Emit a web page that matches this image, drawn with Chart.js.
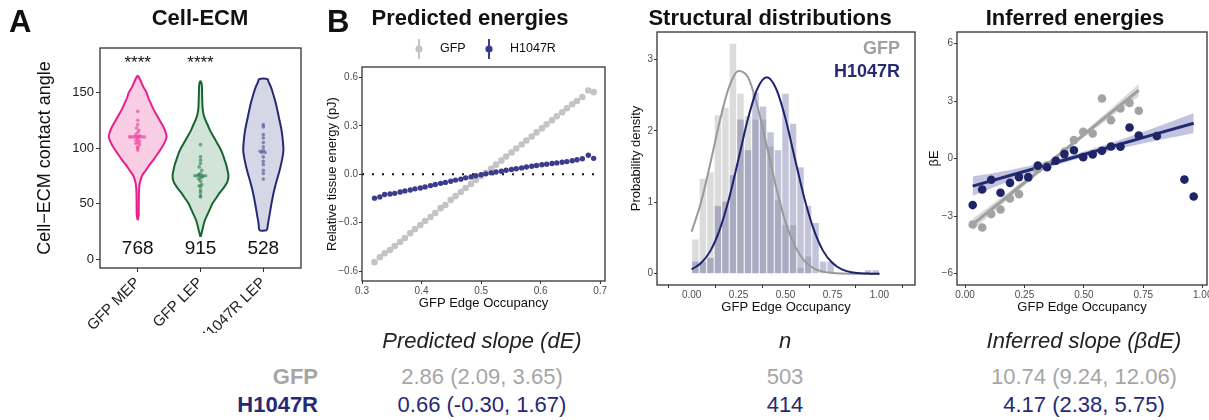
<!DOCTYPE html>
<html>
<head>
<meta charset="utf-8">
<script src="https://cdn.jsdelivr.net/npm/chart.js@4.4.1/dist/chart.umd.min.js"></script>
<style>
  html, body { margin: 0; padding: 0; background: #fff; }
  body { position: relative; width: 1209px; height: 420px; overflow: hidden;
         font-family: 'Liberation Sans', Arial, Helvetica, sans-serif; }
  canvas { position: absolute; }
  .txt { position: absolute; white-space: nowrap; line-height: 1; }
</style>
</head>
<body>
<canvas id="chartViolin" width="285" height="303" style="left:30px;top:30px"></canvas>
<canvas id="chartPredicted" width="295" height="285" style="left:322px;top:30px"></canvas>
<canvas id="chartStructure" width="305" height="305" style="left:620px;top:12px"></canvas>
<canvas id="chartInferred" width="300" height="305" style="left:925px;top:12px"></canvas>
<script>
// ---- panel A: contact angles ----
var groupsA = ['GFP MEP', 'GFP LEP', 'H1047R LEP'];
var countsA = ['768', '915', '528'];
var signifA = ['****', '****', ''];

var mepLevels = [35, 40, 50, 60, 65, 70, 75, 80, 85, 90, 95, 100, 105, 110, 115, 120, 125, 130, 135, 140, 145, 150, 155, 160, 163, 165];
var mepWidths = [0, .015, .017, .02, .025, .04, .07, .13, .19, .26, .32, .38, .43, .46, .44, .40, .35, .30, .25, .21, .17, .14, .09, .05, .025, 0];
var lepLevels = [20, 25, 30, 35, 40, 45, 50, 55, 60, 65, 70, 75, 80, 85, 90, 95, 100, 105, 110, 115, 120, 125, 130, 135, 140, 150, 157, 160];
var lepWidths = [0, .025, .045, .07, .11, .15, .19, .25, .31, .38, .43, .445, .43, .41, .38, .35, .31, .26, .21, .16, .12, .08, .05, .035, .03, .025, .02, 0];
var h1047Levels = [26, 32, 40, 50, 60, 70, 80, 90, 98, 107, 116, 127, 140, 150, 155, 160, 162];
var h1047Widths = [.06, .075, .1, .13, .165, .21, .26, .30, .32, .31, .29, .25, .20, .15, .12, .08, .07];

var mepDots = [133, 125, 121, 118, 116, 114, 112, 111, 110, 110, 110, 110, 110, 110, 110, 110, 108, 107, 106, 105, 104, 103, 101, 100, 98];
var mepJitter = [0, 0, 0, -.02, .02, 0, -.03, .03, -.13, -.1, -.06, -.03, 0, .03, .07, .11, 0, -.03, .03, 0, -.03, .03, 0, 0, 0];
var lepDots = [103, 92, 89, 86, 83, 80, 77, 76, 75, 75, 75, 75, 75, 74, 73, 72, 70, 67, 66, 65, 62, 60, 57, 56];
var lepJitter = [0, 0, 0, 0, -.02, .02, 0, -.03, -.09, -.05, 0, .04, .08, .03, 0, -.03, 0, .02, -.02, 0, 0, 0, 0, 0];
var h1047Dots = [121, 119, 112, 109, 105, 101, 98, 97, 96, 96, 92, 88, 85, 80, 77, 72];
var h1047Jitter = [0, 0, 0, 0, 0, 0, 0, -.05, .03, -.02, 0, 0, 0, 0, 0, 0];

// ---- panel B: predicted energies ----
var occupancy = [0.321, 0.330, 0.338, 0.347, 0.355, 0.364, 0.372, 0.381, 0.389, 0.398, 0.406, 0.415, 0.423, 0.432, 0.440,
  0.449, 0.457, 0.466, 0.474, 0.483, 0.491, 0.500, 0.508, 0.517, 0.525, 0.534, 0.542, 0.551, 0.559, 0.568,
  0.576, 0.585, 0.593, 0.602, 0.610, 0.619, 0.627, 0.636, 0.644, 0.653, 0.661, 0.670, 0.680, 0.689];
var gfpEnergy = [-0.545, -0.515, -0.49, -0.47, -0.445, -0.42, -0.395, -0.365, -0.34, -0.315, -0.29, -0.265, -0.24, -0.21, -0.19,
  -0.16, -0.135, -0.11, -0.085, -0.06, -0.035, -0.01, 0.01, 0.035, 0.06, 0.085, 0.11, 0.135, 0.16, 0.185,
  0.21, 0.235, 0.26, 0.285, 0.31, 0.335, 0.36, 0.385, 0.41, 0.435, 0.455, 0.48, 0.52, 0.51];
var h1047Energy = [-0.148, -0.14, -0.125, -0.122, -0.118, -0.11, -0.103, -0.097, -0.09, -0.085, -0.078, -0.07, -0.063, -0.056, -0.05,
  -0.043, -0.036, -0.03, -0.022, -0.016, -0.009, -0.003, 0.003, 0.009, 0.014, 0.019, 0.025, 0.03, 0.035, 0.04,
  0.045, 0.05, 0.055, 0.059, 0.063, 0.067, 0.071, 0.075, 0.079, 0.084, 0.09, 0.097, 0.118, 0.099];
var zeroLine = [0.3, 0.7];

// ---- panel C: occupancy histograms ----
var binCenters = [0.02, 0.06, 0.10, 0.14, 0.18, 0.22, 0.26, 0.30, 0.34, 0.38, 0.42, 0.46, 0.50, 0.54, 0.58, 0.62, 0.66,
  0.70, 0.74, 0.78, 0.82, 0.86, 0.90, 0.94, 0.98];
var gfpDensity = [0.48, 1.33, 1.42, 2.22, 2.32, 3.22, 2.52, 2.21, 2.16, 2.16, 1.78, 1.03, 0.68, 0.68, 0.08, 0.24, 0, 0, 0, 0, 0, 0, 0, 0, 0];
var h1047Density = [0.17, 0.17, 0.22, 0.95, 1.01, 1.38, 2.16, 1.73, 2.53, 2.34, 1.98, 1.73, 2.52, 2.10, 1.49, 0.95, 0.71, 0.17, 0.17, 0, 0, 0, 0, 0.05, 0.05];
var fitX = [0, 0.05, 0.10, 0.15, 0.20, 0.25, 0.30, 0.35, 0.40, 0.45, 0.50, 0.55, 0.60, 0.65, 0.70, 0.75, 0.80, 0.85, 0.90, 0.95, 1.00];
var gfpFit = [0.59, 1.00, 1.55, 2.14, 2.62, 2.84, 2.75, 2.35, 1.79, 1.21, 0.72, 0.39, 0.18, 0.076, 0.029, 0.009, 0.002, 0, 0, 0, 0];
var h1047Fit = [0.06, 0.15, 0.32, 0.62, 1.06, 1.61, 2.17, 2.59, 2.75, 2.59, 2.17, 1.61, 1.06, 0.62, 0.32, 0.15, 0.06, 0.02, 0.005, 0.001, 0];

// ---- panel D: inferred energies ----
var gfpInfX = [0.032, 0.072, 0.110, 0.149, 0.189, 0.227, 0.266, 0.306, 0.345, 0.382, 0.418, 0.458, 0.497, 0.537, 0.576, 0.614, 0.654, 0.692, 0.731];
var gfpInfE = [-3.44, -3.6, -2.9, -2.66, -2.09, -1.86, -1.0, -0.55, -0.35, -0.1, 0.35, 0.96, 1.39, 1.30, 3.13, 2.0, 2.61, 2.9, 2.49];
var h1047InfX = [0.032, 0.072, 0.110, 0.149, 0.189, 0.227, 0.266, 0.306, 0.345, 0.382, 0.418, 0.458, 0.497, 0.537, 0.576, 0.614, 0.654, 0.692, 0.731, 0.807, 0.923, 0.962];
var h1047InfE = [-2.43, -1.62, -1.11, -1.79, -1.27, -0.97, -0.97, -0.37, -0.45, -0.12, 0.23, 0.43, 0.07, 0.21, 0.40, 0.63, 0.61, 1.62, 1.20, 1.17, -1.10, -1.98];
var gfpTrendX = [0.032, 0.2, 0.4, 0.6, 0.731];
var gfpTrend = [-3.44, -1.76, 0.24, 2.25, 3.56];
var gfpLow = [-3.74, -1.93, 0.12, 2.05, 3.23];
var gfpHigh = [-3.14, -1.59, 0.36, 2.45, 3.89];
var h1047TrendX = [0.032, 0.2, 0.4, 0.6, 0.8, 0.962];
var h1047Trend = [-1.44, -0.85, -0.14, 0.56, 1.27, 1.84];
var h1047Low = [-1.94, -1.13, -0.29, 0.36, 0.92, 1.32];
var h1047High = [-0.94, -0.57, 0.01, 0.76, 1.62, 2.36];

// ---- summary table ----
var tableCols = ['Predicted slope (dE)', 'n', 'Inferred slope (\u03b2dE)'];
var tableRowNames = ['GFP', 'H1047R'];
var tableGfp = ['2.86 (2.09, 3.65)', '503', '10.74 (9.24, 12.06)'];
var tableH1047 = ['0.66 (-0.30, 1.67)', '414', '4.17 (2.38, 5.75)'];

var FONT = "'Liberation Sans', Arial, Helvetica, sans-serif";
var GREY = '#a6a6a6';
var NAVY = '#262a75';

Chart.defaults.font.family = FONT;
Chart.defaults.color = '#333';
Chart.defaults.animation = false;
Chart.defaults.plugins.legend.display = false;
Chart.defaults.plugins.tooltip.enabled = false;

function pts(xs, ys) {
    return xs.map(function(x, i) { return { x: x, y: ys[i] }; });
}

function minus(s) { return String(s).replace('-', '\u2212'); }

// linear axis with fixed ticks and a fixed box size so the plot areas line up
function axis(o) {
    return {
        type: 'linear',
        min: o.min,
        max: o.max,
        afterBuildTicks: function(s) { s.ticks = o.ticks.map(function(v) { return { value: v }; }); },
        afterFit: function(s) { if (s.isHorizontal()) s.height = o.size; else s.width = o.size; },
        grid: { drawOnChartArea: false, drawTicks: true, tickLength: o.tickLen || 3, color: '#333', lineWidth: 1 },
        border: { display: false },
        ticks: {
            font: { size: o.tickSize || 10 },
            color: o.tickColor || '#4d4d4d',
            padding: o.tickPad === undefined ? 1 : o.tickPad,
            autoSkip: false,
            maxRotation: o.rot || 0,
            minRotation: o.rot || 0,
            callback: o.fmt
        },
        title: {
            display: !!o.title,
            text: o.title,
            font: { size: o.titleSize || 13 },
            color: '#111',
            padding: o.titlePad || { top: 0, bottom: 0 }
        }
    };
}

var framePlugin = {
    id: 'frame',
    afterDatasetsDraw: function(chart) {
        var a = chart.chartArea, ctx = chart.ctx;
        ctx.save();
        ctx.strokeStyle = '#333';
        ctx.lineWidth = 1.3;
        ctx.strokeRect(a.left, a.top, a.right - a.left, a.bottom - a.top);
        ctx.restore();
    }
};

// ---------- A: violins ----------
function outline(c, levels, widths) {
    var right = levels.map(function(y, i) { return { x: c + widths[i], y: y }; });
    var left = [];
    for (var i = levels.length - 1; i >= 0; i--) {
        if (widths[i] === 0) continue;
        left.push({ x: c - widths[i], y: levels[i] });
    }
    var shape = right.concat(left);
    shape.push(right[0]);
    return shape;
}

function dots(c, values, jitter) {
    return values.map(function(v, i) { return { x: c + jitter[i], y: v }; });
}

var violins = [
    { levels: mepLevels, widths: mepWidths, dots: mepDots, jitter: mepJitter, line: '#e91e8c', fill: '#f9cde4', dot: 'rgba(233,60,150,0.6)' },
    { levels: lepLevels, widths: lepWidths, dots: lepDots, jitter: lepJitter, line: '#17652f', fill: '#d2e3d7', dot: 'rgba(40,120,70,0.6)' },
    { levels: h1047Levels, widths: h1047Widths, dots: h1047Dots, jitter: h1047Jitter, line: '#262a75', fill: '#d5d7e7', dot: 'rgba(70,75,140,0.6)' }
];

var violinSets = [];
violins.forEach(function(v, i) {
    violinSets.push({
        type: 'line',
        data: outline(i + 1, v.levels, v.widths),
        borderColor: v.line,
        borderWidth: 2,
        backgroundColor: v.fill,
        fill: 'shape',
        tension: 0.3,
        pointRadius: 0,
        order: 3
    });
    violinSets.push({
        type: 'scatter',
        data: dots(i + 1, v.dots, v.jitter),
        backgroundColor: v.dot,
        borderWidth: 0,
        pointRadius: 1.8,
        order: 1
    });
});

var annotateA = {
    id: 'annotateA',
    afterDatasetsDraw: function(chart) {
        var ctx = chart.ctx, x = chart.scales.x, y = chart.scales.y;
        ctx.save();
        ctx.textAlign = 'center';
        ctx.textBaseline = 'middle';
        ctx.fillStyle = '#111';
        groupsA.forEach(function(g, i) {
            var px = x.getPixelForValue(i + 1);
            ctx.font = '19px ' + FONT;
            ctx.fillText(countsA[i], px, y.getPixelForValue(9));
            ctx.font = '17px ' + FONT;
            ctx.fillText(signifA[i], px, y.getPixelForValue(176));
        });
        ctx.restore();
    }
};

new Chart(document.getElementById('chartViolin'), {
    type: 'scatter',
    data: { datasets: violinSets },
    options: {
        responsive: false,
        layout: { padding: { left: 0, top: 18, right: 14, bottom: 0 } },
        scales: {
            x: axis({ min: 0.4, max: 3.6, ticks: [1, 2, 3], size: 65, tickSize: 15, tickColor: '#222', rot: 45, tickLen: 4, tickPad: 2,
                      fmt: function(v) { return groupsA[Math.round(v) - 1]; } }),
            y: axis({ min: -8, max: 190, ticks: [0, 50, 100, 150], size: 70, tickSize: 13, tickColor: '#222', tickLen: 4, tickPad: 2,
                      title: 'Cell\u2212ECM contact angle', titleSize: 18, titlePad: { top: 4, bottom: 0 } })
        }
    },
    plugins: [framePlugin, annotateA]
});

// ---------- B: predicted energies ----------
var legendB = {
    id: 'legendB',
    afterDraw: function(chart) {
        var ctx = chart.ctx;
        var keys = [{ x: 97, label: 'GFP', color: '#c4c4c4' }, { x: 167, label: 'H1047R', color: '#3a3d8c' }];
        ctx.save();
        keys.forEach(function(k) {
            ctx.strokeStyle = k.color;
            ctx.lineWidth = 2;
            ctx.beginPath();
            ctx.moveTo(k.x, 9);
            ctx.lineTo(k.x, 29);
            ctx.stroke();
            ctx.fillStyle = k.color;
            ctx.beginPath();
            ctx.arc(k.x, 19, 3.6, 0, Math.PI * 2);
            ctx.fill();
            ctx.fillStyle = '#111';
            ctx.font = '12.5px ' + FONT;
            ctx.textBaseline = 'middle';
            ctx.fillText(k.label, k.x + 21, 19);
        });
        ctx.restore();
    }
};

new Chart(document.getElementById('chartPredicted'), {
    type: 'scatter',
    data: {
        datasets: [
            { type: 'line', data: pts(zeroLine, [0, 0]), borderColor: '#111', borderWidth: 2, borderDash: [2, 8],
              pointRadius: 0, fill: false, order: 3 },
            { data: pts(occupancy, gfpEnergy), backgroundColor: '#c4c4c4', borderWidth: 0, pointRadius: 3.3, order: 2 },
            { data: pts(occupancy, h1047Energy), backgroundColor: '#3a3d8c', borderWidth: 0, pointRadius: 2.7, order: 1 }
        ]
    },
    options: {
        responsive: false,
        layout: { padding: { left: 0, top: 37, right: 12, bottom: 0 } },
        scales: {
            x: axis({ min: 0.3, max: 0.708, ticks: [0.3, 0.4, 0.5, 0.6, 0.7], size: 34,
                      fmt: function(v) { return v.toFixed(1); },
                      title: 'GFP Edge Occupancy', titlePad: { top: 0, bottom: 4 } }),
            y: axis({ min: -0.662, max: 0.666, ticks: [-0.6, -0.3, 0, 0.3, 0.6], size: 40,
                      fmt: function(v) { return minus(v.toFixed(1)); },
                      title: 'Relative tissue energy (pJ)', titlePad: { top: 3, bottom: 0 } })
        }
    },
    plugins: [framePlugin, legendB]
});

// ---------- C: structural distributions ----------
new Chart(document.getElementById('chartStructure'), {
    type: 'bar',
    data: {
        datasets: [
            { type: 'bar', data: pts(binCenters, gfpDensity), backgroundColor: 'rgba(150,150,150,0.33)',
              borderWidth: 0, grouped: false, barPercentage: 0.86, categoryPercentage: 1, order: 4 },
            { type: 'bar', data: pts(binCenters, h1047Density), backgroundColor: 'rgba(38,44,120,0.28)',
              borderWidth: 0, grouped: false, barPercentage: 0.86, categoryPercentage: 1, order: 3 },
            { type: 'line', data: pts(fitX, gfpFit), borderColor: '#999999', borderWidth: 2, pointRadius: 0,
              cubicInterpolationMode: 'monotone', fill: false, order: 2 },
            { type: 'line', data: pts(fitX, h1047Fit), borderColor: '#1e2371', borderWidth: 2, pointRadius: 0,
              cubicInterpolationMode: 'monotone', fill: false, order: 1 }
        ]
    },
    options: {
        responsive: false,
        layout: { padding: { left: 0, top: 20, right: 10, bottom: 0 } },
        scales: {
            x: axis({ min: -0.047, max: 1.052, ticks: [0, 0.25, 0.5, 0.75, 1], size: 32,
                      fmt: function(v) { return v.toFixed(2); },
                      title: 'GFP Edge Occupancy', titlePad: { top: 0, bottom: 2 } }),
            y: axis({ min: -0.158, max: 3.385, ticks: [0, 1, 2, 3], size: 37,
                      fmt: function(v) { return String(v); },
                      title: 'Probability density', titlePad: { top: 9, bottom: 0 } })
        }
    },
    plugins: [framePlugin]
});

// ---------- D: inferred energies ----------
new Chart(document.getElementById('chartInferred'), {
    type: 'scatter',
    data: {
        datasets: [
            { type: 'line', data: pts(gfpTrendX, gfpHigh), borderWidth: 0, pointRadius: 0, tension: 0.4,
              backgroundColor: 'rgba(185,185,185,0.55)', fill: '+1', order: 6 },
            { type: 'line', data: pts(gfpTrendX, gfpLow), borderWidth: 0, pointRadius: 0, tension: 0.4, fill: false, order: 6 },
            { type: 'line', data: pts(h1047TrendX, h1047High), borderWidth: 0, pointRadius: 0, tension: 0.4,
              backgroundColor: 'rgba(120,124,185,0.45)', fill: '+1', order: 5 },
            { type: 'line', data: pts(h1047TrendX, h1047Low), borderWidth: 0, pointRadius: 0, tension: 0.4, fill: false, order: 5 },
            { type: 'line', data: pts(gfpTrendX, gfpTrend), borderColor: '#9f9f9f', borderWidth: 3, pointRadius: 0, fill: false, order: 4 },
            { type: 'line', data: pts(h1047TrendX, h1047Trend), borderColor: '#232a72', borderWidth: 3, pointRadius: 0, fill: false, order: 3 },
            { data: pts(gfpInfX, gfpInfE), backgroundColor: '#a3a3a3', borderWidth: 0, pointRadius: 4.3, order: 2 },
            { data: pts(h1047InfX, h1047InfE), backgroundColor: '#1f2468', borderWidth: 0, pointRadius: 4.3, order: 1 }
        ]
    },
    options: {
        responsive: false,
        layout: { padding: { left: 0, top: 20, right: 18, bottom: 0 } },
        scales: {
            x: axis({ min: -0.034, max: 1.018, ticks: [0, 0.25, 0.5, 0.75, 1], size: 32,
                      fmt: function(v) { return v.toFixed(2); },
                      title: 'GFP Edge Occupancy', titlePad: { top: 0, bottom: 2 } }),
            y: axis({ min: -6.6, max: 6.6, ticks: [-6, -3, 0, 3, 6], size: 32,
                      fmt: function(v) { return minus(v); },
                      title: '\u03b2E', titlePad: { top: 2, bottom: 0 } })
        }
    },
    plugins: [framePlugin]
});

// ---------- titles, panel tags and the summary table ----------
function label(str, x, y, o) {
    var d = document.createElement('div');
    d.className = 'txt';
    d.textContent = str;
    var size = o.size;
    d.style.fontSize = size + 'px';
    d.style.fontWeight = o.bold ? 'bold' : 'normal';
    d.style.fontStyle = o.italic ? 'italic' : 'normal';
    d.style.color = o.color || '#111';
    d.style.top = (y - 0.45 * size) + 'px';
    if (o.align === 'left') {
        d.style.left = x + 'px';
    } else if (o.align === 'right') {
        d.style.left = (x - 600) + 'px';
        d.style.width = '600px';
        d.style.textAlign = 'right';
    } else {
        d.style.left = (x - 300) + 'px';
        d.style.width = '600px';
        d.style.textAlign = 'center';
    }
    document.body.appendChild(d);
}

label('A', 9, 20, { size: 31, bold: true, align: 'left' });
label('B', 327, 20, { size: 31, bold: true, align: 'left' });
label('Cell-ECM', 200, 17, { size: 22, bold: true });
label('Predicted energies', 470, 17, { size: 22, bold: true });
label('Structural distributions', 770, 17, { size: 22, bold: true });
label('Inferred energies', 1075, 17, { size: 22, bold: true });

label('GFP', 900, 47, { size: 18, bold: true, color: '#a0a0a0', align: 'right' });
label('H1047R', 900, 70, { size: 18, bold: true, color: NAVY, align: 'right' });

var colCenters = [482, 785, 1084];
tableCols.forEach(function(t, i) { label(t, colCenters[i], 340, { size: 22, italic: true, color: '#222' }); });
label(tableRowNames[0], 318, 376, { size: 22, bold: true, color: GREY, align: 'right' });
label(tableRowNames[1], 318, 404, { size: 22, bold: true, color: NAVY, align: 'right' });
tableGfp.forEach(function(t, i) { label(t, colCenters[i], 376, { size: 22, color: GREY }); });
tableH1047.forEach(function(t, i) { label(t, colCenters[i], 404, { size: 22, color: NAVY }); });
</script>
</body>
</html>
